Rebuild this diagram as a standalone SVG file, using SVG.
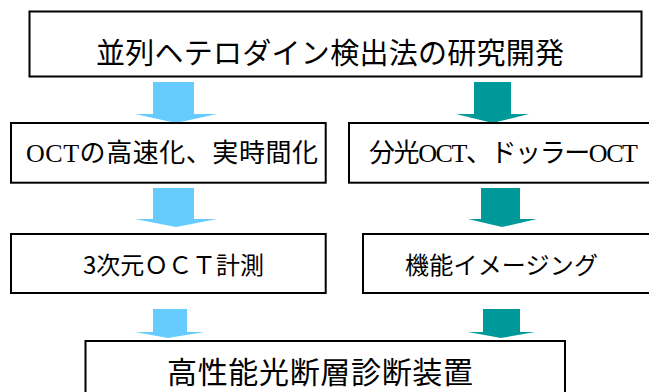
<svg xmlns="http://www.w3.org/2000/svg" width="649" height="392" viewBox="0 0 649 392">
  <style>
    .box { fill: #ffffff; stroke: #000000; stroke-width: 2; }
    .t { font-family: "Noto Sans CJK JP", sans-serif; fill: #000000; }
    .ts { font-family: "Liberation Serif", "Noto Sans CJK JP", serif; fill: #000000; }
    .lb { fill: #66CCFF; }
    .tl { fill: #009999; }
  </style>
  <rect width="649" height="392" fill="#ffffff"/>
  <g id="connectors">
    <polygon class="lb" points="153,82 194,82 194,114 217,114 176,123 135,114 153,114"/>
    <polygon class="tl" points="474,82 511,82 511,114 529,114 492.5,123 456,114 474,114"/>
    <polygon class="lb" points="153,188 194,188 194,219 217,219 176,227 135,219 153,219"/>
    <polygon class="tl" points="481,188 520,188 520,219 537,219 502,227 468,219 481,219"/>
    <polygon class="lb" points="153,309 187,309 187,332 205,332 168,338 135,332 153,332"/>
    <polygon class="tl" points="483,309 520,309 520,332 535,332 501,338 468,332 483,332"/>
  </g>
  <g id="node-top">
    <rect class="box" x="29.5" y="11.5" width="612" height="65"/>
    <text class="t" x="96" y="64" font-size="29" textLength="468">並列ヘテロダイン検出法の研究開発</text>
  </g>
  <g id="node-speed">
    <rect class="box" x="11" y="123" width="314.7" height="59.7"/>
    <text class="ts" x="26" y="162" font-size="26" textLength="292">OCTの高速化、実時間化</text>
  </g>
  <g id="node-doppler">
    <rect class="box" x="349" y="123" width="310" height="59.7"/>
    <text class="ts" x="369" y="162" font-size="26" textLength="269">分光OCT、ドッラーOCT</text>
  </g>
  <g id="node-3d">
    <rect class="box" x="11" y="234" width="314.7" height="59"/>
    <text class="t" x="83" y="274" font-size="24" textLength="181">3次元ＯＣＴ計測</text>
  </g>
  <g id="node-func">
    <rect class="box" x="363" y="234" width="300" height="59"/>
    <text class="t" x="405" y="274" font-size="24" textLength="193">機能イメージング</text>
  </g>
  <g id="node-device">
    <rect class="box" x="85.5" y="341" width="479.5" height="60"/>
    <text class="t" x="167" y="383" font-size="30" textLength="306">高性能光断層診断装置</text>
  </g>
</svg>
